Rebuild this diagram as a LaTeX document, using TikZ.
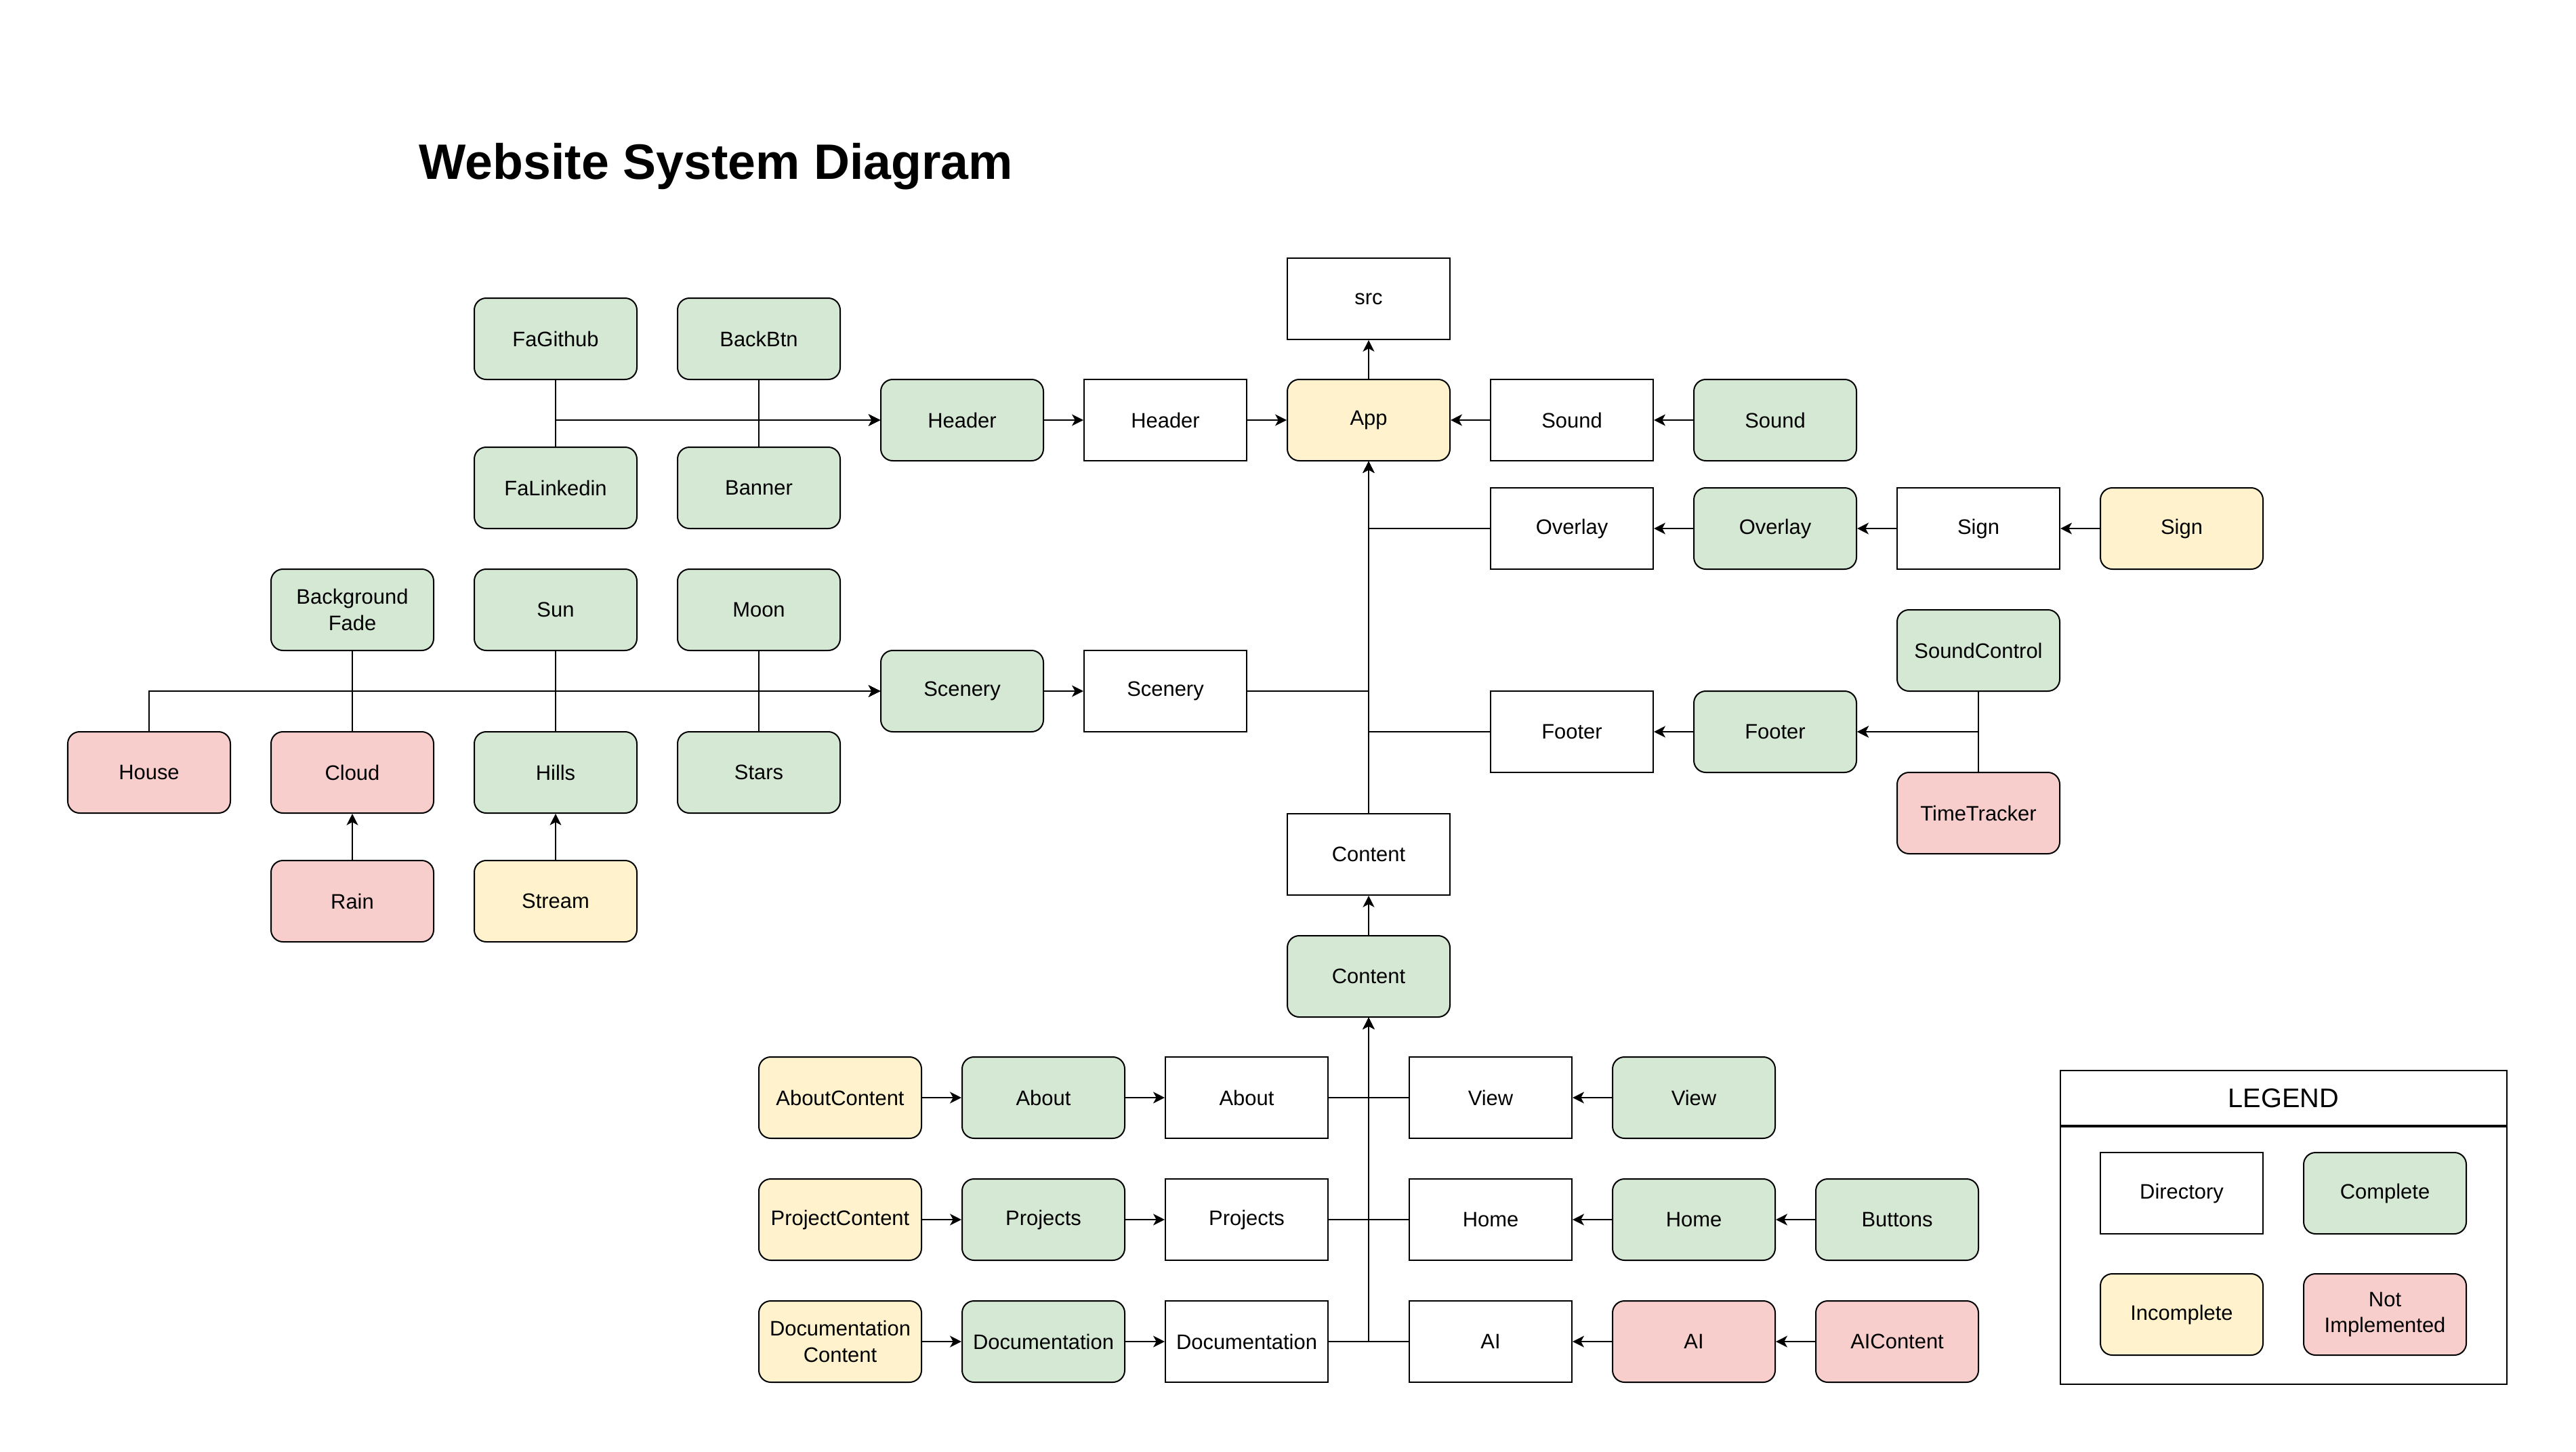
\documentclass[tikz,border=0pt]{standalone}
\usepackage{fontspec}
\setmainfont{Liberation Sans}
\usetikzlibrary{arrows.meta}

\definecolor{donegreen}{HTML}{D5E8D4}
\definecolor{partyellow}{HTML}{FFF2CC}
\definecolor{todored}{HTML}{F8CECC}

\begin{document}
\begin{tikzpicture}[x=1cm,y=1cm]
		\newcommand{\offx}{2.2}  % centre of the first column
		\newcommand{\colw}{3}    % column spacing
		\newcommand{\subx}{12.4} % first column of the content rows

		% set the styles of the boxes and links
		\tikzset{
			box/.style={
				draw,
				line width=0.57pt,
				minimum width=2.4cm,
				minimum height=1.2cm,
				inner sep=0pt,
				align=center,
				font=\fontsize{8.8}{11}\selectfont
				},
			dirbox/.style={box, fill=white},
			donebox/.style={box, rounded corners=5pt, fill=donegreen},
			partbox/.style={box, rounded corners=5pt, fill=partyellow},
			todobox/.style={box, rounded corners=5pt, fill=todored},
			arr/.style={-{Stealth[length=4.8pt, width=4.8pt, inset=1.3pt]}, line width=0.57pt},
			link/.style={-, line width=0.57pt}
		}

		\path[fill=white] (0,0) rectangle (38.02,-21.42);
		\useasboundingbox (0,0) rectangle (38.02,-21.42);

		\node[font=\bfseries\fontsize{20.9}{25}\selectfont] (title) at (10.57,-2.46) {Website System Diagram};

		% top rows
		\node[dirbox] (src) at (\offx+6*\colw,-4.41) {src};
		\node[donebox] (fagithub) at (\offx+2*\colw,-5.00) {FaGithub};
		\node[donebox] (backbtn) at (\offx+3*\colw,-5.00) {BackBtn};
		\node[donebox] (headerc) at (\offx+4*\colw,-6.20) {Header};
		\node[dirbox] (headerd) at (\offx+5*\colw,-6.20) {Header};
		\node[partbox] (app) at (\offx+6*\colw,-6.20) {App};
		\node[dirbox] (soundd) at (\offx+7*\colw,-6.20) {Sound};
		\node[donebox] (soundc) at (\offx+8*\colw,-6.20) {Sound};
		\node[donebox] (falinkedin) at (\offx+2*\colw,-7.20) {FaLinkedin};
		\node[donebox] (banner) at (\offx+3*\colw,-7.20) {Banner};
		\node[dirbox] (overlayd) at (\offx+7*\colw,-7.80) {Overlay};
		\node[donebox] (overlayc) at (\offx+8*\colw,-7.80) {Overlay};
		\node[dirbox] (signd) at (\offx+9*\colw,-7.80) {Sign};
		\node[partbox] (signc) at (\offx+10*\colw,-7.80) {Sign};

		% scenery rows
		\node[donebox] (bgfade) at (\offx+1*\colw,-9.00) {Background\\Fade};
		\node[donebox] (sun) at (\offx+2*\colw,-9.00) {Sun};
		\node[donebox] (moon) at (\offx+3*\colw,-9.00) {Moon};
		\node[donebox] (soundctl) at (\offx+9*\colw,-9.60) {SoundControl};
		\node[donebox] (sceneryc) at (\offx+4*\colw,-10.20) {Scenery};
		\node[dirbox] (sceneryd) at (\offx+5*\colw,-10.20) {Scenery};
		\node[dirbox] (footerd) at (\offx+7*\colw,-10.80) {Footer};
		\node[donebox] (footerc) at (\offx+8*\colw,-10.80) {Footer};
		\node[todobox] (house) at (\offx+0*\colw,-11.40) {House};
		\node[todobox] (cloud) at (\offx+1*\colw,-11.40) {Cloud};
		\node[donebox] (hills) at (\offx+2*\colw,-11.40) {Hills};
		\node[donebox] (stars) at (\offx+3*\colw,-11.40) {Stars};
		\node[todobox] (timetrk) at (\offx+9*\colw,-12.00) {TimeTracker};
		\node[dirbox] (contentd) at (\offx+6*\colw,-12.61) {Content};
		\node[todobox] (rain) at (\offx+1*\colw,-13.30) {Rain};
		\node[partbox] (stream) at (\offx+2*\colw,-13.30) {Stream};
		\node[donebox] (contentc) at (\offx+6*\colw,-14.41) {Content};

		% content rows
		\node[partbox] (aboutcnt) at (\subx+0*\colw,-16.20) {AboutContent};
		\node[donebox] (aboutc) at (\subx+1*\colw,-16.20) {About};
		\node[dirbox] (aboutd) at (\subx+2*\colw,-16.20) {About};
		\node[dirbox] (viewd) at (\subx+3.2*\colw,-16.20) {View};
		\node[donebox] (viewc) at (\subx+4.2*\colw,-16.20) {View};
		\node[partbox] (projcnt) at (\subx+0*\colw,-18.00) {ProjectContent};
		\node[donebox] (projc) at (\subx+1*\colw,-18.00) {Projects};
		\node[dirbox] (projd) at (\subx+2*\colw,-18.00) {Projects};
		\node[dirbox] (homed) at (\subx+3.2*\colw,-18.00) {Home};
		\node[donebox] (homec) at (\subx+4.2*\colw,-18.00) {Home};
		\node[donebox] (buttons) at (\subx+5.2*\colw,-18.00) {Buttons};
		\node[partbox] (doccnt) at (\subx+0*\colw,-19.80) {Documentation\\Content};
		\node[donebox] (docc) at (\subx+1*\colw,-19.80) {Documentation};
		\node[dirbox] (docd) at (\subx+2*\colw,-19.80) {Documentation};
		\node[dirbox] (aid) at (\subx+3.2*\colw,-19.80) {AI};
		\node[todobox] (aic) at (\subx+4.2*\colw,-19.80) {AI};
		\node[todobox] (aicnt) at (\subx+5.2*\colw,-19.80) {AIContent};

		% header links
		\draw[arr] (fagithub) |- (headerc.west);
		\draw[arr] (falinkedin) |- (headerc.west);
		\draw[arr] (backbtn) |- (headerc.west);
		\draw[arr] (banner) |- (headerc.west);
		\draw[arr] (headerc) -- (headerd);
		\draw[arr] (headerd) -- (app);
		\draw[arr] (app) -- (src);
		\draw[arr] (soundc) -- (soundd);
		\draw[arr] (soundd) -- (app);
		\draw[arr] (signc) -- (signd);
		\draw[arr] (signd) -- (overlayc);
		\draw[arr] (overlayc) -- (overlayd);

		% trunk into app
		\draw[arr] (overlayd) -| (app);
		\draw[arr] (sceneryd) -| (app);
		\draw[arr] (footerd) -| (app);
		\draw[arr] (contentd) -- (app);

		% scenery links
		\draw[arr] (house) |- (sceneryc.west);
		\draw[arr] (bgfade) |- (sceneryc.west);
		\draw[arr] (cloud) |- (sceneryc.west);
		\draw[arr] (sun) |- (sceneryc.west);
		\draw[arr] (hills) |- (sceneryc.west);
		\draw[arr] (moon) |- (sceneryc.west);
		\draw[arr] (stars) |- (sceneryc.west);
		\draw[arr] (sceneryc) -- (sceneryd);
		\draw[arr] (rain) -- (cloud);
		\draw[arr] (stream) -- (hills);

		% footer links
		\draw[arr] (soundctl) |- (footerc.east);
		\draw[arr] (timetrk) |- (footerc.east);
		\draw[arr] (footerc) -- (footerd);

		% content links
		\draw[arr] (contentc) -- (contentd);
		\draw[arr] (aboutcnt) -- (aboutc);
		\draw[arr] (aboutc) -- (aboutd);
		\draw[arr] (projcnt) -- (projc);
		\draw[arr] (projc) -- (projd);
		\draw[arr] (doccnt) -- (docc);
		\draw[arr] (docc) -- (docd);
		\draw[arr] (viewc) -- (viewd);
		\draw[arr] (buttons) -- (homec);
		\draw[arr] (homec) -- (homed);
		\draw[arr] (aicnt) -- (aic);
		\draw[arr] (aic) -- (aid);
		\draw[arr] (aboutd) -| (contentc);
		\draw[arr] (projd) -| (contentc);
		\draw[arr] (docd) -| (contentc);
		\draw[arr] (viewd) -| (contentc);
		\draw[arr] (homed) -| (contentc);
		\draw[arr] (aid) -| (contentc);

		% legend
		\node[draw, line width=0.57pt, minimum width=6.59cm, minimum height=0.81cm, inner sep=0pt,
			font=\fontsize{11.3}{13}\selectfont] (legtitle) at (33.705,-16.205) {LEGEND};
		\node[draw, line width=0.57pt, minimum width=6.59cm, minimum height=3.8cm, inner sep=0pt,
			anchor=north] (legbody) at (legtitle.south) {};
		\node[dirbox] (legdir) at (32.2,-17.61) {Directory};
		\node[donebox] (legdone) at (35.2,-17.61) {Complete};
		\node[partbox] (legpart) at (32.2,-19.40) {Incomplete};
		\node[todobox] (legtodo) at (35.2,-19.40) {Not\\Implemented};
\end{tikzpicture}
\end{document}
